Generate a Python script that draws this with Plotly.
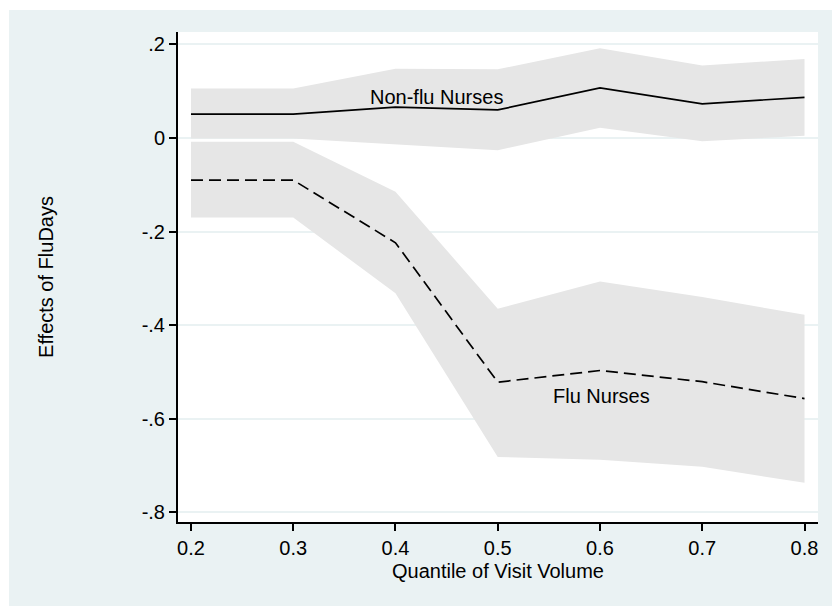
import plotly.graph_objects as go

# Quantile-regression estimates of FluDays effect with 95% bands
quantiles = [0.2, 0.3, 0.4, 0.5, 0.6, 0.7, 0.8]

nonflu_est = [0.051, 0.051, 0.066, 0.060, 0.107, 0.073, 0.087]
nonflu_hi = [0.106, 0.106, 0.148, 0.147, 0.192, 0.155, 0.169]
nonflu_lo = [-0.001, -0.001, -0.014, -0.026, 0.022, -0.007, 0.005]

flu_est = [-0.090, -0.090, -0.224, -0.522, -0.497, -0.521, -0.557]
flu_hi = [-0.008, -0.008, -0.115, -0.365, -0.307, -0.340, -0.378]
flu_lo = [-0.170, -0.170, -0.332, -0.682, -0.688, -0.703, -0.737]

y_ticks = [0.2, 0.0, -0.2, -0.4, -0.6, -0.8]
y_tick_text = [".2", "0", "-.2", "-.4", "-.6", "-.8"]
x_ticks = [0.2, 0.3, 0.4, 0.5, 0.6, 0.7, 0.8]
x_tick_text = ["0.2", "0.3", "0.4", "0.5", "0.6", "0.7", "0.8"]

BAND = "#E6E6E6"
PANEL = "#EAF2F3"
FONT = "Liberation Sans, Arial, sans-serif"
FS = 20

fig = go.Figure()


def add_band(lo, hi):
    fig.add_trace(go.Scatter(
        x=quantiles + quantiles[::-1],
        y=hi + lo[::-1],
        fill="toself", fillcolor=BAND,
        line=dict(width=0, color=BAND),
        mode="lines", hoverinfo="skip", showlegend=False,
    ))


add_band(nonflu_lo, nonflu_hi)
add_band(flu_lo, flu_hi)

fig.add_trace(go.Scatter(
    x=quantiles, y=nonflu_est, mode="lines",
    line=dict(color="black", width=1.7),
    name="Non-flu Nurses", showlegend=False,
))
fig.add_trace(go.Scatter(
    x=quantiles, y=flu_est, mode="lines",
    line=dict(color="black", width=1.7, dash="12px,6px"),
    name="Flu Nurses", showlegend=False,
))

fig.add_annotation(x=0.44, y=0.088, text="Non-flu Nurses", showarrow=False,
                   font=dict(size=FS, color="black", family=FONT))
fig.add_annotation(x=0.601, y=-0.551, text="Flu Nurses", showarrow=False,
                   font=dict(size=FS, color="black", family=FONT))

# white outer border on the top and left edges
W, H = 832, 606
L, R, T, B = 178, 14, 32, 84
pw, ph = W - L - R, H - T - B
fig.add_shape(type="rect", xref="paper", yref="paper",
              x0=-L / pw, x1=(9 - L) / pw, y0=-B / ph, y1=(H - B) / ph + 0.01,
              fillcolor="white", line=dict(width=0), layer="below")
fig.add_shape(type="rect", xref="paper", yref="paper",
              x0=-L / pw, x1=(W - L) / pw + 0.01, y0=(H - B - 10) / ph, y1=(H - B) / ph + 0.01,
              fillcolor="white", line=dict(width=0), layer="below")

fig.update_layout(
    width=W, height=H,
    margin=dict(l=L, r=R, t=T, b=B, autoexpand=False),
    paper_bgcolor=PANEL, plot_bgcolor="white",
    font=dict(family=FONT, size=FS, color="black"),
    showlegend=False,
)
fig.update_xaxes(
    range=[0.1873, 0.8132], tickvals=x_ticks, ticktext=x_tick_text,
    showgrid=False, zeroline=False,
    showline=True, linecolor="black", linewidth=2,
    ticks="outside", ticklen=7, tickwidth=2, tickcolor="black",
    tickfont=dict(size=FS),
    title=dict(text="Quantile of Visit Volume", font=dict(size=FS), standoff=6),
)
fig.update_yaxes(
    range=[-0.8209, 0.2266], tickvals=y_ticks, ticktext=y_tick_text,
    showgrid=True, gridcolor=PANEL, gridwidth=1.5, zeroline=False,
    showline=True, linecolor="black", linewidth=2,
    ticks="outside", ticklen=7, tickwidth=2, tickcolor="black",
    tickfont=dict(size=FS),
    title=dict(text="Effects of FluDays", font=dict(size=FS), standoff=83),
)

fig.write_html("out.html")
